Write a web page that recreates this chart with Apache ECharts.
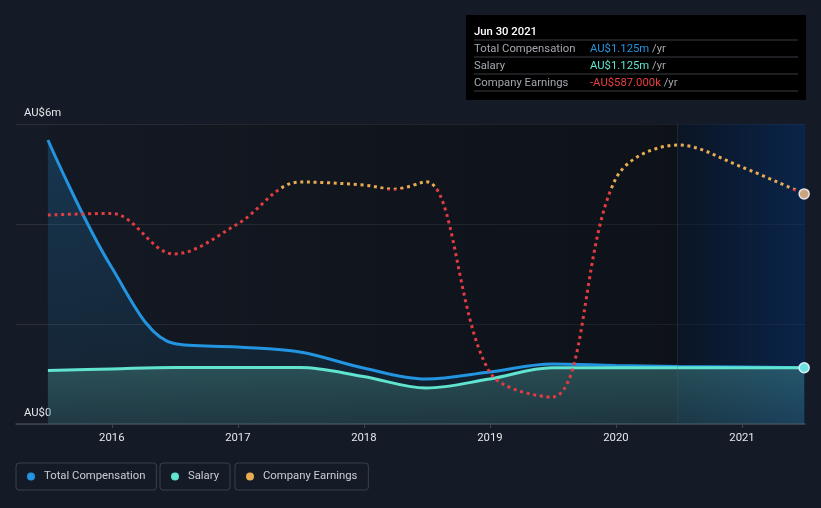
<!DOCTYPE html>
<html>
<head>
<meta charset="utf-8">
<script src="https://cdn.jsdelivr.net/npm/echarts@6/dist/echarts.min.js"></script>
<style>
html,body{margin:0;padding:0;background:#151b26;}
#chart{width:821px;height:508px;}
</style>
</head>
<body>
<div id="chart"></div>
<script>
// ---- data ----
const compDates = ['2015-06-30','2015-12-31','2016-06-30','2016-12-31','2017-06-30','2017-12-31','2018-06-30','2018-12-31','2019-06-30','2019-12-31','2020-06-30','2020-12-31','2021-06-30'];
const totalComp = [5.68, 3.14, 1.61, 1.54, 1.44, 1.12, 0.90, 1.04, 1.20, 1.17, 1.15, 1.14, 1.125]; // AU$m
const salary    = [1.07, 1.10, 1.13, 1.13, 1.13, 0.95, 0.72, 0.90, 1.125, 1.125, 1.125, 1.125, 1.125]; // AU$m
const earnDates = ['2015-06-30','2015-12-31','2016-06-30','2016-12-31','2017-06-30','2017-12-31','2018-03-31','2018-06-30','2018-12-31','2019-06-30','2019-12-31','2020-06-30','2020-12-31','2021-06-30'];
const earnings  = [-3330, -3130, -8400, -4500, 960, 570, 30, 1000, -23740, -26990, 1350, 5770, 2910, -587]; // AU$k
const yearTicks = [2016, 2017, 2018, 2019, 2020, 2021];
const forecastStart = '2020-06-30';
const tooltipTitle = 'Jun 30 2021';

function decYear(s){
  const d = new Date(s + 'T00:00:00Z');
  const y = d.getUTCFullYear();
  const a = Date.UTC(y,0,1), b = Date.UTC(y+1,0,1);
  return y + (d.getTime() - a) / (b - a);
}
const compX = compDates.map(decYear);
const earnX = earnDates.map(decYear);
const lastIdx = compX.length - 1;
const lastE = earnX.length - 1;

const totalData = totalComp.map((v,i)=>[compX[i], v]);
const salaryData = salary.map((v,i)=> i===lastIdx
  ? {value:[compX[i], v], symbol:'circle', symbolSize:10, itemStyle:{color:'#6fe0e0', borderColor:'#d8f4f8', borderWidth:1.5}}
  : [compX[i], v]);
const earnData = earnings.map((v,i)=> i===lastE
  ? {value:[earnX[i], v], symbol:'circle', symbolSize:10, itemStyle:{color:'#caa57e', borderColor:'#e6e6ea', borderWidth:1.5}}
  : [earnX[i], v]);

function fmtM(v){ return 'AU$' + v.toFixed(3) + 'm'; }
function fmtK(v){ return (v<0?'-':'') + 'AU$' + Math.abs(v).toFixed(3) + 'k'; }

const font = 'Roboto, "Noto Sans", sans-serif';
const fs = 11.3;
const legendCommon = {
  orient:'horizontal', icon:'circle', itemWidth:8, itemHeight:8,
  padding:[8,11,8,11], borderColor:'#3b404b', borderWidth:1, borderRadius:3,
  selectedMode:false, top:463,
  textStyle:{color:'#c9cdd3', fontSize:fs, fontFamily:font, padding:[0,0,0,4]}
};

const tipX = 466, tipY = 15;
function rowText(y, label, val, col){
  return [
    {type:'text', x:tipX+8, y:y, style:{text:label, fill:'#a3a7ad', font:fs+'px '+font, verticalAlign:'middle'}},
    {type:'text', x:tipX+124, y:y, style:{text:'{v|'+val+'} {u|/yr}', verticalAlign:'middle', font:fs+'px '+font,
      rich:{v:{fill:col, font:fs+'px '+font}, u:{fill:'#a3a7ad', font:fs+'px '+font}}}}
  ];
}
function sep(y){
  return {type:'line', shape:{x1:tipX+8, y1:y, x2:tipX+332, y2:y}, style:{stroke:'#3a3d42', lineWidth:1}};
}

const chart = echarts.init(document.getElementById('chart'));
chart.setOption({
  backgroundColor:'#151b26',
  animation:false,
  grid:{left:16, right:16, top:124, bottom:84},
  xAxis:{
    type:'value', min:2015.24, max:2021.5,
    axisLine:{lineStyle:{color:'#40454f', width:1.5}},
    axisTick:{show:true, customValues:yearTicks, length:4, lineStyle:{color:'#40454f'}},
    axisLabel:{customValues:yearTicks, color:'#e4e6ea', fontSize:fs, fontFamily:font, margin:9, formatter:v=>String(Math.round(v))},
    splitLine:{show:false}
  },
  yAxis:[{
    type:'value', min:0, max:6, interval:2,
    axisLine:{show:false}, axisTick:{show:false},
    axisLabel:{inside:true, margin:8, color:'#e4e6ea', fontSize:fs, fontFamily:font, verticalAlign:'bottom', padding:[0,0,5,0],
      formatter:v=> v===0 ? 'AU$0' : (v===6 ? 'AU$6m' : '')},
    splitLine:{lineStyle:{color:'#2b3039', width:1}}
  },{
    type:'value', min:-30500, max:8500, show:false, splitLine:{show:false}
  }],
  visualMap:{type:'piecewise', show:false, seriesIndex:2, dimension:1,
    pieces:[{gte:-100000, lt:0, color:'#e03c41'},{gte:0, lte:100000, color:'#e9ab52'}]},
  legend:[
    Object.assign({}, legendCommon, {left:16, data:[{name:'Total Compensation', itemStyle:{color:'#2394df'}}]}),
    Object.assign({}, legendCommon, {left:160, data:[{name:'Salary', itemStyle:{color:'#60e4cf'}}]}),
    Object.assign({}, legendCommon, {left:235, data:[{name:'Company Earnings', itemStyle:{color:'#e9ab52'}}]})
  ],
  series:[
    {
      name:'Total Compensation', type:'line', data:totalData, smooth:0.35,
      symbol:'none', z:3,
      lineStyle:{color:'#2394df', width:3},
      itemStyle:{color:'#2394df'},
      areaStyle:{color:new echarts.graphic.LinearGradient(0,0,0,1,[
        {offset:0, color:'rgba(35,148,223,0.34)'},{offset:1, color:'rgba(35,148,223,0.10)'}])},
      markArea:{silent:true, z:0, data:[[
        {xAxis:compX[0], itemStyle:{color:new echarts.graphic.LinearGradient(0,0,1,0,[
          {offset:0, color:'rgba(0,0,0,0.08)'},{offset:1, color:'rgba(0,0,0,0.36)'}])}},
        {xAxis:decYear(forecastStart)}
      ],[
        {xAxis:decYear(forecastStart), itemStyle:{color:new echarts.graphic.LinearGradient(0,0,1,0,[
          {offset:0, color:'rgba(4,17,36,0.6)'},{offset:1, color:'rgba(3,42,95,0.62)'}])}},
        {xAxis:2021.5}
      ]]},
      markLine:{silent:true, symbol:'none', label:{show:false},
        lineStyle:{color:'rgba(60,90,130,0.3)', type:'solid', width:1},
        data:[{xAxis:decYear(forecastStart)}]}
    },
    {
      name:'Salary', type:'line', data:salaryData, smooth:0.35,
      symbol:'none', showSymbol:true, z:4,
      lineStyle:{color:'#60e4cf', width:3},
      itemStyle:{color:'#60e4cf'},
      areaStyle:{color:new echarts.graphic.LinearGradient(0,0,0,1,[
        {offset:0, color:'rgba(78,150,140,0.55)'},{offset:1, color:'rgba(60,110,112,0.45)'}])}
    },
    {
      name:'Company Earnings', type:'line', yAxisIndex:1, data:earnData, smooth:0.35,
      symbol:'none', showSymbol:true, z:5,
      lineStyle:{width:3, type:[3,3.7], cap:'butt'},
      itemStyle:{color:'#e9ab52'}
    }
  ],
  graphic:[{
    type:'group', z:100,
    children:[
      {type:'rect', shape:{x:tipX, y:tipY, width:340, height:85}, style:{fill:'#000000'}},
      {type:'text', x:tipX+8, y:tipY+17, style:{text:tooltipTitle, fill:'#ffffff', font:'500 '+fs+'px '+font, verticalAlign:'middle'}},
      sep(tipY+25),
      ...rowText(tipY+34, 'Total Compensation', fmtM(totalComp[lastIdx]), '#2394df'),
      sep(tipY+42),
      ...rowText(tipY+51, 'Salary', fmtM(salary[lastIdx]), '#60e4cf'),
      sep(tipY+59),
      ...rowText(tipY+68, 'Company Earnings', fmtK(earnings[lastE]), '#ec3f44'),
      sep(tipY+76)
    ]
  }]
});
</script>
</body>
</html>
